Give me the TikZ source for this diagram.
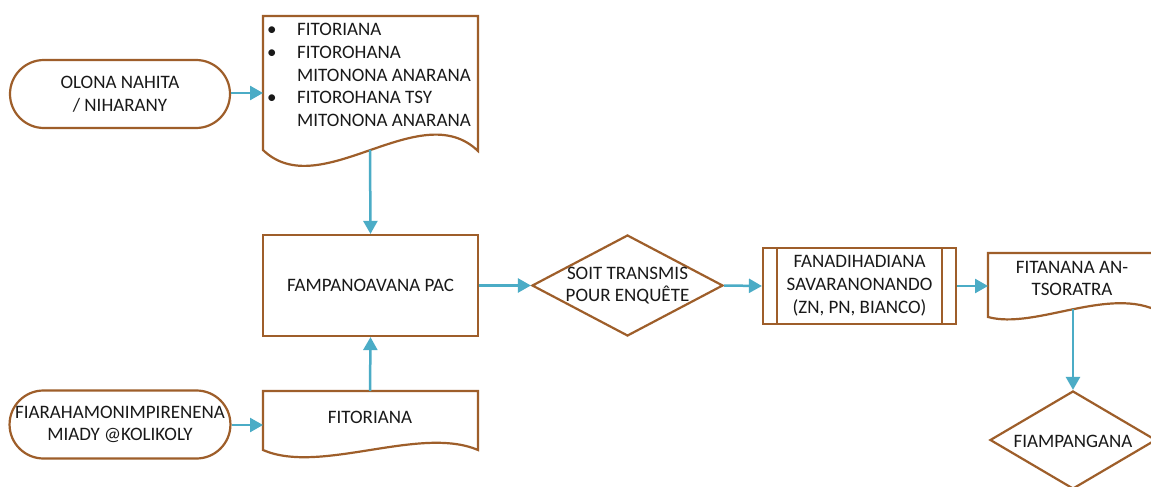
\documentclass[tikz,border=0pt]{standalone}
\usepackage{fontspec}
\setmainfont{Carlito}
\usetikzlibrary{shapes.misc,shapes.geometric,arrows.meta}
\definecolor{shapebrown}{RGB}{158,94,42}
\definecolor{flowteal}{RGB}{75,172,198}
\tikzset{
  shp/.style={draw=shapebrown, line width=2.2pt, fill=white},
  txt/.style={font=\fontsize{19}{22.8}\selectfont, align=center, inner sep=0pt, text=black!90},
  terminal/.style={shp, rounded rectangle, minimum width=220pt, minimum height=68pt, inner sep=0pt, txt},
  procbox/.style={shp, rectangle, inner sep=0pt, txt},
  decision/.style={shp, diamond, inner sep=0pt, aspect=1},
  flow/.style={draw=flowteal, line width=2.5pt, -{Triangle[length=13pt,width=14pt]}},
}
\begin{document}
\begin{tikzpicture}[x=1pt,y=-1pt]
\useasboundingbox (0,0) rectangle (1151,487);
\clip (0,0) rectangle (1151,487);
\fill[white] (0,0) rectangle (1151,487);

% terminals
\node[terminal] (t1) at (120,94) {OLONA NAHITA\\/ NIHARANY};
\node[terminal] (t2) at (120,424.5) {FIARAHAMONIMPIRENENA\\MIADY @KOLIKOLY};

% document 1
\draw[shp] (263,16) -- (478,16) -- (478,151)
  .. controls (420,95) and (320,205) .. (263,150) -- cycle;
\coordinate (d1in) at (263,93);
\coordinate (d1out) at (370,150);
\node[txt, align=left, anchor=north west] (d1txt) at (267,23)
  {\makebox[30pt][l]{\textbullet}FITORIANA\\
   \makebox[30pt][l]{\textbullet}FITOROHANA\\
   \makebox[30pt][l]{}MITONONA ANARANA\\
   \makebox[30pt][l]{\textbullet}FITOROHANA TSY\\
   \makebox[30pt][l]{}MITONONA ANARANA};

% process
\node[procbox, minimum width=215pt, minimum height=101pt] (pac) at (370.5,285.5) {FAMPANOAVANA PAC};

% document 2
\draw[shp] (263,391) -- (478,391) -- (478,450)
  .. controls (420,425) and (320,475) .. (263,450) -- cycle;
\coordinate (d2in) at (263,425);
\coordinate (d2out) at (370,391);
\node[txt] (d2txt) at (370,417) {FITORIANA};

% decision 1
\node[decision, minimum width=191pt, minimum height=101pt] (dec1) at (627.5,285.5) {};
\node[txt] (dec1txt) at (627.5,285.5) {SOIT TRANSMIS\\POUR ENQUÊTE};

% predefined process
\node[procbox, minimum width=193pt, minimum height=76pt] (pp) at (859.5,286)
  {FANADIHADIANA\\SAVARANONANDO\\(ZN, PN, BIANCO)};
\draw[draw=shapebrown, line width=2.2pt] (777,248) -- (777,324);
\draw[draw=shapebrown, line width=2.2pt] (942,248) -- (942,324);

% document 3
\draw[shp] (988,253) -- (1160,253) -- (1160,312)
  .. controls (1110,285) and (1035,330) .. (988,317) -- cycle;
\coordinate (d3in) at (988,286);
\coordinate (d3out) at (1073,309);
\node[txt] (d3txt) at (1072,278.5) {FITANANA AN-\\TSORATRA};

% decision 2
\node[decision, minimum width=166pt, minimum height=98pt] (dec2) at (1073,440) {};
\node[txt] (dec2txt) at (1073,441) {FIAMPANGANA};

% connectors
\draw[flow] (t1.east |- d1in) -- (d1in);
\draw[flow] (d1out) -- (pac.north);
\draw[flow] (d2out) -- (pac.south);
\draw[flow] (t2.east |- d2in) -- (d2in);
\draw[flow] (pac.east) -- (dec1.west);
\draw[flow] (dec1.east) -- (pp.west);
\draw[flow] (pp.east) -- (d3in);
\draw[flow] (d3out) -- (dec2.north);
\end{tikzpicture}
\end{document}
